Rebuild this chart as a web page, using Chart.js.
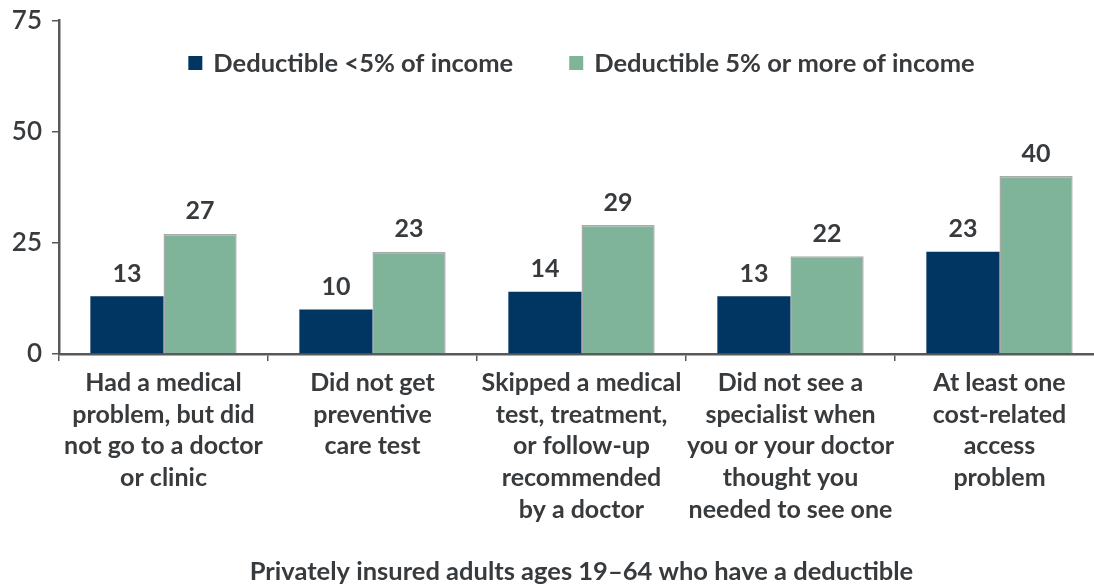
<!DOCTYPE html>
<html>
<head>
<meta charset="utf-8">
<script src="https://cdn.jsdelivr.net/npm/chart.js@4/dist/chart.umd.min.js"></script>
<style>
  html, body { margin: 0; padding: 0; background: #fff; overflow: hidden; }
  #wrap { position: relative; width: 1110px; height: 585px; }
</style>
</head>
<body>
<div id="wrap"><canvas id="chart"></canvas></div>
<script>
// categories and values
const categories = [
  ['Had a medical', 'problem, but did', 'not go to a doctor', 'or clinic'],
  ['Did not get', 'preventive', 'care test'],
  ['Skipped a medical', 'test, treatment,', 'or follow-up', 'recommended', 'by a doctor'],
  ['Did not see a', 'specialist when', 'you or your doctor', 'thought you', 'needed to see one'],
  ['At least one', 'cost-related', 'access', 'problem']
];
const seriesNames = ['Deductible <5% of income', 'Deductible 5% or more of income'];
const lowDeductible = [13, 10, 14, 13, 23];
const highDeductible = [27, 23, 29, 22, 40];
const yTicks = [0, 25, 50, 75];

const textColor = '#383b3e';
const axisColor = '#595959';
const fontFamily = 'Lato, "Open Sans", sans-serif';

// value labels above each bar
const barLabels = {
  id: 'barLabels',
  afterDatasetsDraw(chart) {
    const ctx = chart.ctx;
    ctx.save();
    ctx.fillStyle = textColor;
    ctx.font = `bold 25px ${fontFamily}`;
    ctx.textAlign = 'center';
    ctx.textBaseline = 'bottom';
    chart.data.datasets.forEach((ds, i) => {
      chart.getDatasetMeta(i).data.forEach((bar, j) => {
        ctx.fillText(ds.data[j], bar.x, bar.y - 10);
      });
    });
    ctx.restore();
  }
};

// legend drawn inside the plot, centred on the chart area
const insideLegend = {
  id: 'insideLegend',
  afterDraw(chart) {
    const ctx = chart.ctx;
    const area = chart.chartArea;
    const box = 14, gap = 11, itemGap = 56;
    ctx.save();
    ctx.font = `bold 25.5px ${fontFamily}`;
    const items = chart.data.datasets.map(ds => ({
      label: ds.label,
      color: ds.backgroundColor,
      w: box + gap + ctx.measureText(ds.label).width
    }));
    const total = items.reduce((s, it) => s + it.w, 0) + itemGap * (items.length - 1);
    let x = (area.left + area.right) / 2 - total / 2;
    const y = 63;
    items.forEach(it => {
      ctx.fillStyle = it.color;
      ctx.fillRect(x, y - box / 2, box, box);
      ctx.fillStyle = textColor;
      ctx.textBaseline = 'middle';
      ctx.textAlign = 'left';
      ctx.fillText(it.label, x + box + gap, y + 1);
      x += it.w + itemGap;
    });
    ctx.restore();
  }
};

new Chart(document.getElementById('chart'), {
  type: 'bar',
  data: {
    labels: categories,
    datasets: [
      {
        label: seriesNames[0],
        data: lowDeductible,
        backgroundColor: '#023662',
        borderWidth: 0
      },
      {
        label: seriesNames[1],
        data: highDeductible,
        backgroundColor: '#80b49a',
        borderColor: '#a9aaaa',
        borderWidth: 1.5
      }
    ]
  },
  options: {
    responsive: true,
    maintainAspectRatio: false,
    animation: false,
    categoryPercentage: 0.7,
    barPercentage: 1.0,
    layout: { padding: { top: 19, right: 6, left: 0, bottom: 0 } },
    plugins: {
      legend: { display: false },
      tooltip: { enabled: false }
    },
    scales: {
      x: {
        grid: {
          offset: true,
          drawOnChartArea: false,
          drawTicks: true,
          tickLength: 7,
          color: axisColor,
          lineWidth: 1.5
        },
        border: { color: axisColor, width: 2.5 },
        ticks: {
          color: textColor,
          font: { family: fontFamily, size: 25, weight: 'bold', lineHeight: 1.27 },
          padding: 6,
          maxRotation: 0,
          autoSkip: false
        },
        title: {
          display: true,
          text: 'Privately insured adults ages 19–64 who have a deductible',
          color: textColor,
          font: { family: fontFamily, size: 25.5, weight: 'bold', lineHeight: 1.0 },
          padding: { top: 0, bottom: 0 }
        },
        afterFit(scale) { scale.height = 231; }
      },
      y: {
        min: 0,
        max: 75,
        afterBuildTicks(scale) { scale.ticks = yTicks.map(v => ({ value: v })); },
        grid: {
          drawOnChartArea: false,
          drawTicks: true,
          tickLength: 7,
          color: axisColor,
          lineWidth: 1.5
        },
        border: { color: axisColor, width: 2.5 },
        ticks: {
          color: textColor,
          font: { family: fontFamily, size: 26, weight: '600', lineHeight: 0.8 },
          padding: 10
        },
        afterFit(scale) { scale.width = 59; }
      }
    }
  },
  plugins: [barLabels, insideLegend]
});
</script>
</body>
</html>
